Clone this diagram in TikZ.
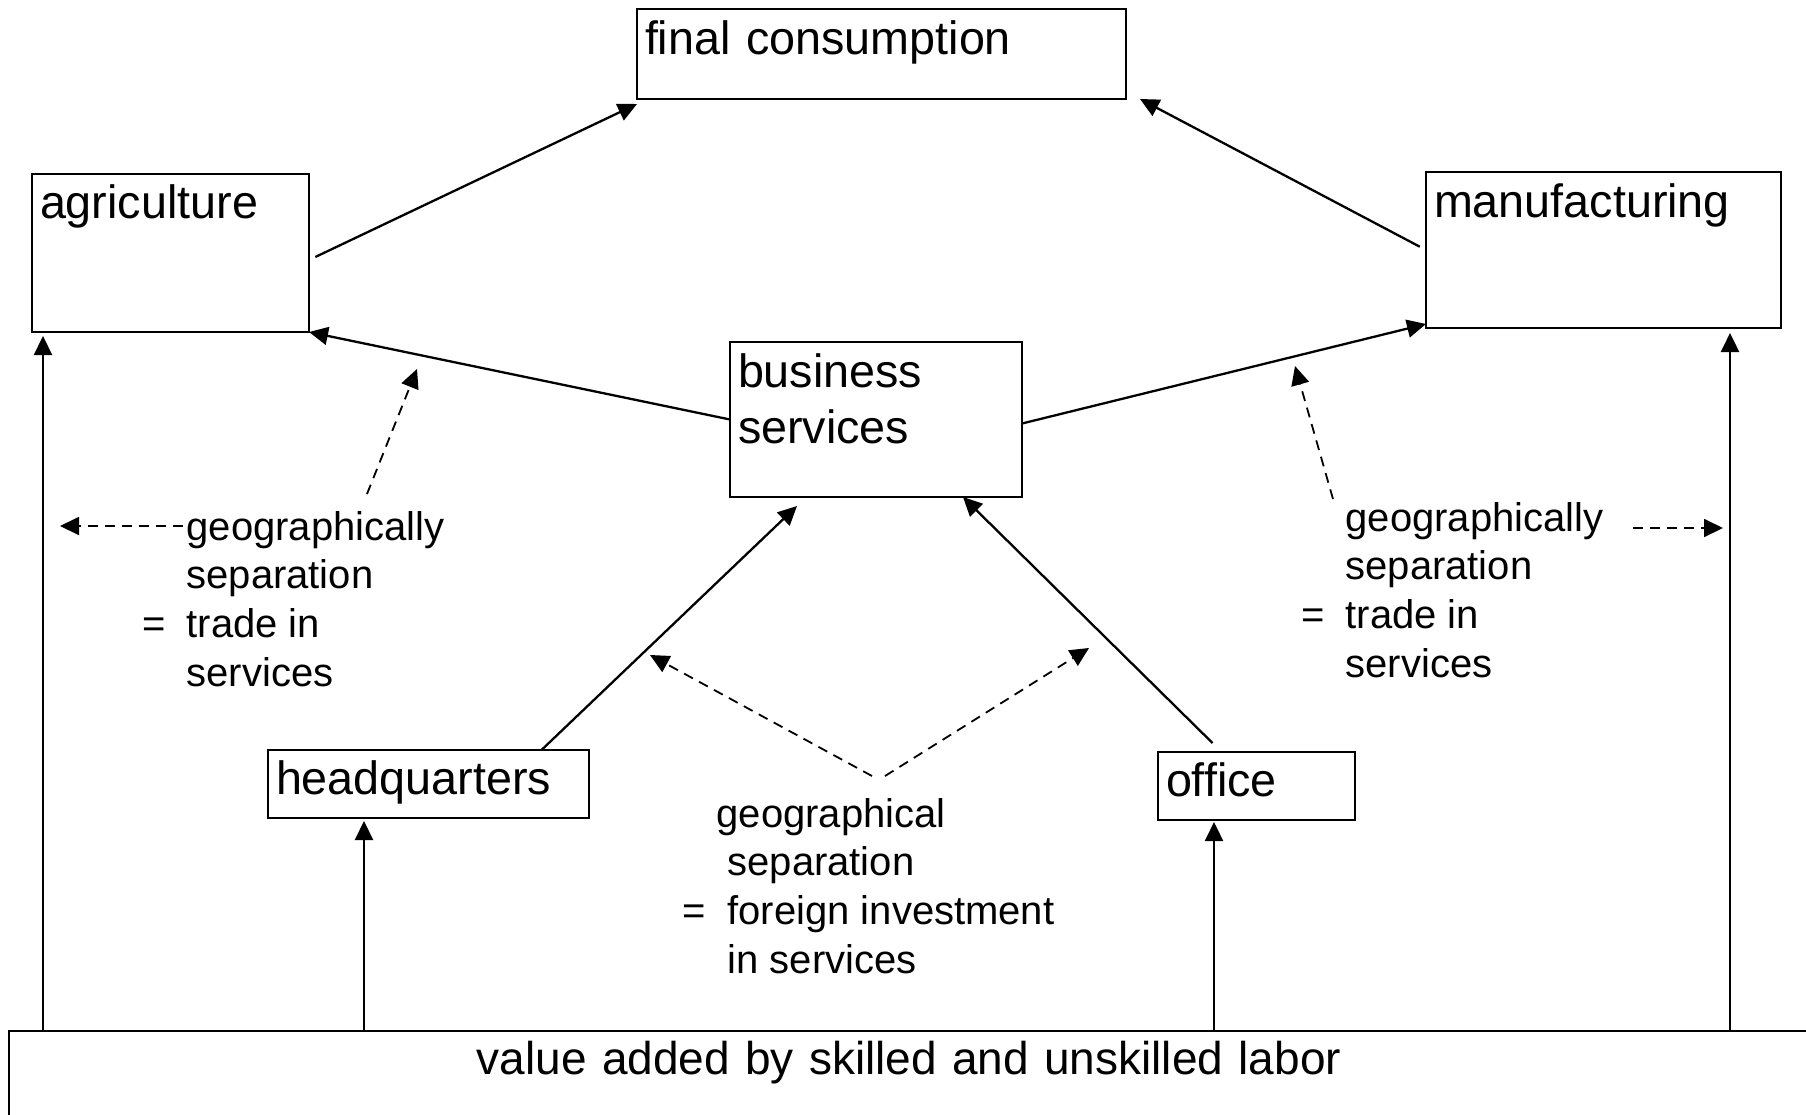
\documentclass[tikz,border=0pt]{standalone}
\usepackage{fontspec}
\setmainfont{Liberation Sans}
\usetikzlibrary{positioning,calc,arrows.meta}
\newcommand{\boxfont}{\fontsize{46.7}{56}\selectfont}
\newcommand{\basefont}{\fontsize{46}{56}\selectfont}
\newcommand{\notefont}{\fontsize{40}{48.7}\selectfont}
\tikzset{sector/.style={draw,line width=2.4pt,anchor=north west,outer sep=0pt,inner xsep=8pt,inner ysep=0pt,align=left,font=\boxfont}}
\tikzset{flow/.style={-{Triangle[length=19pt,width=18pt]},line width=2.3pt}}
\tikzset{geo/.style={flow,line width=1.8pt,dash pattern=on 10pt off 7pt}}
\tikzset{note/.style={anchor=base west,inner sep=0pt,font=\notefont}}

\begin{document}
\begin{tikzpicture}[x=1pt,y=-1pt]
  \useasboundingbox (0,0) rectangle (1806,1114);
  % sectors
  \node[sector,text width=473pt,text height=45pt,text depth=45pt] (fc) at (637,9) {final consumption};
  \node[sector,text width=261pt,text height=44pt,text depth=114pt] (agri) at (32,174) {agriculture};
  \node[sector,text width=339pt,text height=45pt,text depth=111pt] (manu) at (1426,172) {manufacturing};
  \node[sector,text width=276pt,text height=45pt,text depth=110pt] (bs) at (730,342) {business\\services};
  \node[sector,text width=305pt,text height=44pt,text depth=24pt] (hq) at (268,750) {headquarters};
  \node[sector,text width=181pt,text height=44pt,text depth=24pt] (office) at (1158,752) {office};
  \node[sector,font=\basefont,align=center,text width=1784pt,text height=43pt,text depth=120pt] (labor) at (9,1031) {value added by skilled and unskilled labor};
  % notes
  \node[note] (tradeL) at (142,540) {\begin{tabular}[t]{@{}r@{\hspace{21pt}}l@{}}
    & geographically\\ & separation\\ = & trade in\\ & services\end{tabular}};
  \node[note] (tradeR) at (1301,531) {\begin{tabular}[t]{@{}r@{\hspace{21pt}}l@{}}
    & geographically\\ & separation\\ = & trade in\\ & services\end{tabular}};
  \node[note] (invest) at (682,827) {\begin{tabular}[t]{@{}r@{\hspace{22pt}}l@{}}
    & \hspace*{-11pt}geographical\\ & separation\\ = & foreign investment\\ & in services\end{tabular}};
  % arrow ends
  \coordinate (agriIn) at ([xshift=11pt,yshift=-4pt]agri.south west);
  \coordinate (hqIn) at ([xshift=96pt,yshift=-3pt]hq.south west);
  \coordinate (officeIn) at ([xshift=56pt,yshift=-2pt]office.south west);
  \coordinate (manuIn) at ([xshift=-51pt,yshift=-5pt]manu.south east);
  \coordinate (tipL) at (417,369);
  \coordinate (tipLL) at (60,526);
  \coordinate (tipR) at (1295,366);
  \coordinate (tipRR) at (1723,528);
  \coordinate (tipFL) at (650,655);
  \coordinate (tipFR) at (1089,648);
  \path[flow]
    ([yshift=-7pt]agri.east) edge[shorten <=7pt] ([yshift=-5pt]fc.south west)
    (manu.west) edge[shorten <=7pt] ([xshift=14pt]fc.south east)
    (bs.west) edge (agri.south east)
    ([yshift=-4pt]bs.east) edge ([yshift=4pt]manu.south west)
    ([xshift=113pt]hq.north) edge ([xshift=67pt,yshift=-9pt]bs.south west)
    ([xshift=-44pt,yshift=9pt]office.north) edge ([xshift=-59pt]bs.south east)
    (labor.north -| agriIn) edge (agriIn)
    (labor.north -| hqIn) edge (hqIn)
    (labor.north -| officeIn) edge (officeIn)
    (labor.north -| manuIn) edge (manuIn);
  \path[geo]
    ([xshift=225pt,yshift=46pt]tradeL.base west) edge (tipL)
    ([xshift=41pt,yshift=14pt]tradeL.base west) edge (tipLL)
    ([xshift=32pt,yshift=32pt]tradeR.base west) edge (tipR)
    ([xshift=332pt,yshift=3pt]tradeR.base west) edge (tipRR)
    ([xshift=190pt,yshift=51pt]invest.base west) edge (tipFL)
    ([xshift=203pt,yshift=51pt]invest.base west) edge (tipFR);
\end{tikzpicture}
\end{document}
